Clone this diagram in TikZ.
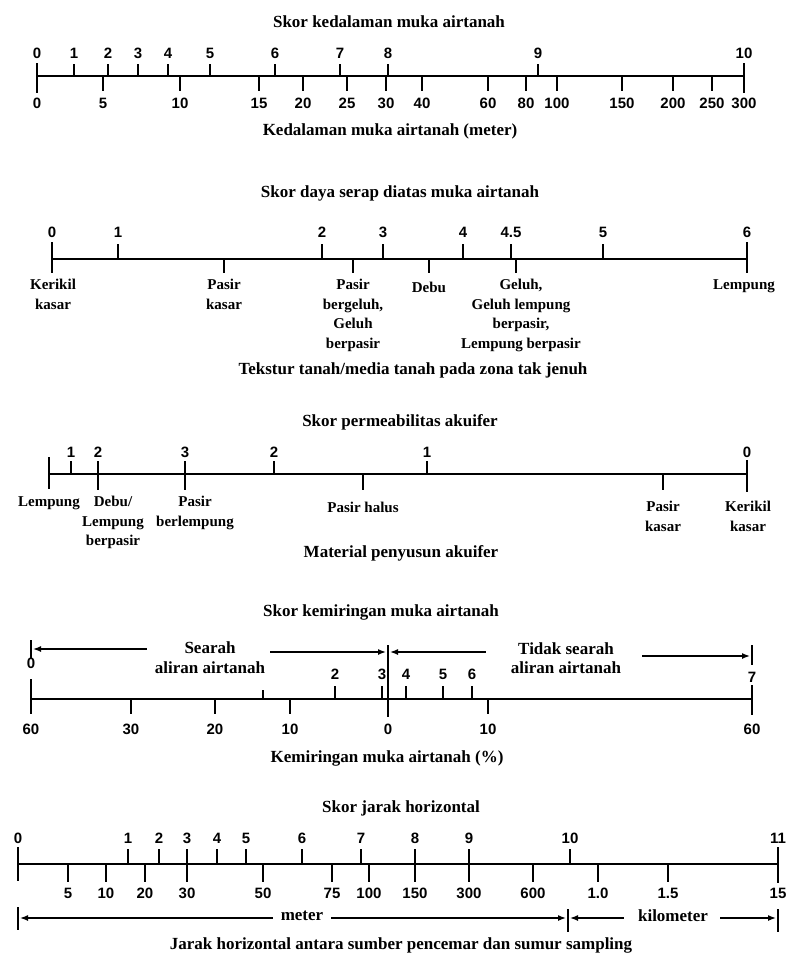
\documentclass[tikz,border=0pt]{standalone}
\usepackage{fontspec}
\setmainfont{Liberation Serif}
\newfontfamily\numfont{Liberation Sans}
\usetikzlibrary{arrows.meta}
\begin{document}
\begin{tikzpicture}[x=1pt,y=-1pt,
    axis/.style={line width=2.2pt},
    tick/.style={line width=2pt},
    bar/.style={line width=1.6pt},
    caption/.style={font=\bfseries\fontsize{17}{19}\selectfont,inner sep=0pt},
    num/.style={font=\numfont\bfseries\fontsize{15}{16}\selectfont,inner sep=0pt},
    soil/.style={font=\bfseries\fontsize{15}{19.5}\selectfont,align=center,inner sep=0pt,anchor=north},
    flow/.style={line width=1.4pt,-{Latex[length=8pt,width=6pt]},shorten >=2pt}]
\useasboundingbox (0,0) rectangle (790,956);

% kedalaman muka airtanah
\node[caption] (t1) at (389,22) {Skor kedalaman muka airtanah};
\coordinate (a1l) at (37,76); \coordinate (a1r) at (744,76);
\draw[axis] (a1l) -- (a1r);
\draw[tick] (37,63) -- (37,93);
\draw[tick] (744,63) -- (744,93);
\foreach \x/\s [count=\i] in {37/0,74/1,108/2,138/3,168/4,210/5,275/6,340/7,388/8,538/9,744/10} {
    \draw[tick] (\x,76) -- (\x,64);
    \node[num] (ks\i) at (\x,53) {\s};
}
\foreach \x/\s [count=\i] in {37/0,103/5,180/10,259/15,303/20,347/25,386/30,422/40,488/60,526/80,557/100,622/150,673/200,712/250,744/300} {
    \draw[tick] (\x,76) -- (\x,91);
    \node[num] (kd\i) at (\x,103) {\s};
}
\node[caption] (c1) at (390,131) {Kedalaman muka airtanah (meter)};

% daya serap
\node[caption] (t2) at (400,193) {Skor daya serap diatas muka airtanah};
\coordinate (a2l) at (52,259); \coordinate (a2r) at (747,259);
\draw[axis] (a2l) -- (a2r);
\draw[tick] (52,242) -- (52,273);
\draw[tick] (747,242) -- (747,273);
\foreach \x/\s [count=\i] in {52/0,118/1,322/2,383/3,463/4,511/4.5,603/5,747/6} {
    \draw[tick] (\x,259) -- (\x,244);
    \node[num] (ds\i) at (\x,232) {\s};
}
\foreach \x in {224,353,429,516} {
    \draw[tick] (\x,259) -- (\x,273);
}
\node[soil] (kerikil2) at (53,279) {Kerikil\\kasar};
\node[soil] (pasir2) at (224,279) {Pasir\\kasar};
\node[soil] (bergeluh) at (353,279) {Pasir\\bergeluh,\\Geluh\\berpasir};
\node[soil] (debu2) at (429,282) {Debu};
\node[soil] (geluh) at (521,279) {Geluh,\\Geluh lempung\\berpasir,\\Lempung berpasir};
\node[soil] (lempung2) at (744,279) {Lempung};
\node[caption] (c2) at (413,370) {Tekstur tanah/media tanah pada zona tak jenuh};

% permeabilitas akuifer
\node[caption] (t3) at (400,422) {Skor permeabilitas akuifer};
\coordinate (a3l) at (49,474); \coordinate (a3r) at (747,474);
\draw[axis] (a3l) -- (a3r);
\draw[tick] (49,457) -- (49,489);
\draw[tick] (747,460) -- (747,492);
\foreach \x/\s [count=\i] in {71/1,98/2,185/3,274/2,427/1,747/0} {
    \draw[tick] (\x,474) -- (\x,461);
    \node[num] (ps\i) at (\x,452) {\s};
}
\foreach \x in {98,185,363,663} {
    \draw[tick] (\x,474) -- (\x,490);
}
\node[soil] (lempung3) at (49,496) {Lempung};
\node[soil] (debu3) at (113,496) {Debu/\\Lempung\\berpasir};
\node[soil] (berlempung) at (195,496) {Pasir\\berlempung};
\node[soil] (halus) at (363,502) {Pasir halus};
\node[soil] (pasir3) at (663,501) {Pasir\\kasar};
\node[soil] (kerikil3) at (748,501) {Kerikil\\kasar};
\node[caption] (c3) at (401,553) {Material penyusun akuifer};

% kemiringan muka airtanah
\node[caption] (t4) at (381,612) {Skor kemiringan muka airtanah};
\coordinate (a4l) at (31,699); \coordinate (a4r) at (752,699);
\draw[axis] (a4l) -- (a4r);
\coordinate (b4l) at (31,640); \coordinate (b4m) at (388,645); \coordinate (b4r) at (752,645);
\draw[bar] (b4l) -- (31,658);
\draw[bar] (b4r) -- (752,665);
\draw[tick] (31,679) -- (31,710);
\draw[tick] (752,685) -- (752,715);
\draw[tick] (b4m) -- (388,717);
\draw[tick] (263,699) -- (263,690);
\node[num] (ms0) at (31,663) {0};
\node[num] (ms7) at (752,677) {7};
\foreach \x/\s [count=\i] in {335/2,382/3,406/4,443/5,472/6} {
    \draw[tick] (\x,699) -- (\x,686);
    \node[num] (ms\i) at (\x,674) {\s};
}
\foreach \x/\s [count=\i] in {31/60,131/30,215/20,290/10,388/0,488/10,752/60} {
    \draw[tick] (\x,699) -- (\x,714);
    \node[num] (md\i) at (\x,729) {\s};
}
\node[caption,align=center,font=\bfseries\fontsize{17}{20}\selectfont] (searah) at (210,658) {Searah\\aliran airtanah};
\node[caption,align=center,font=\bfseries\fontsize{17}{18.5}\selectfont] (tidak) at (566,658) {Tidak searah\\aliran airtanah};
\draw[flow,shorten <=8pt] (searah.west |- b4l) ++(0,9) coordinate (s1) (s1) -- (31,649);
\draw[flow,shorten <=5pt] (searah.east |- b4m) ++(0,7) coordinate (s2) (s2) -- (388,652);
\draw[flow,shorten <=25pt] (tidak.west |- b4m) ++(0,7) coordinate (s3) (s3) -- (388,652);
\draw[flow,shorten <=21pt] (tidak.east |- b4r) ++(0,11) coordinate (s4) (s4) -- (752,656);
\node[caption] (c4) at (387,758) {Kemiringan muka airtanah (\%)};

% jarak horizontal
\node[caption] (t5) at (401,808) {Skor jarak horizontal};
\coordinate (a5l) at (18,864); \coordinate (a5r) at (778,864);
\draw[axis] (a5l) -- (a5r);
\draw[tick] (18,847) -- (18,881);
\draw[tick] (778,847) -- (778,883);
\foreach \x/\s [count=\i] in {18/0,128/1,159/2,187/3,217/4,246/5,302/6,361/7,415/8,469/9,570/10,778/11} {
    \draw[tick] (\x,864) -- (\x,849);
    \node[num] (js\i) at (\x,838) {\s};
}
\foreach \x/\s [count=\i] in {68/5,106/10,145/20,187/30,263/50,332/75,369/100,415/150,469/300,533/600,598/1.0,668/1.5,778/15} {
    \draw[tick] (\x,864) -- (\x,882);
    \node[num] (jd\i) at (\x,893) {\s};
}
\coordinate (m0) at (18,918); \coordinate (m1) at (568,918); \coordinate (m2) at (778,918);
\draw[bar] (18,907) -- (18,930);
\draw[bar] (568,909) -- (568,932);
\draw[bar] (778,909) -- (778,932);
\node[caption] (meter) at (302,916) {meter};
\node[caption] (km) at (673,916) {kilometer};
\draw[flow,shorten <=8pt] (meter.west |- m0) -- (m0);
\draw[flow,shorten <=8pt] (meter.east |- m1) -- (m1);
\draw[flow,shorten <=14pt] (km.west |- m1) -- (m1);
\draw[flow,shorten <=12pt] (km.east |- m2) -- (m2);
\node[caption] (c5) at (401,945) {Jarak horizontal antara sumber pencemar dan sumur sampling};
\end{tikzpicture}
\end{document}
